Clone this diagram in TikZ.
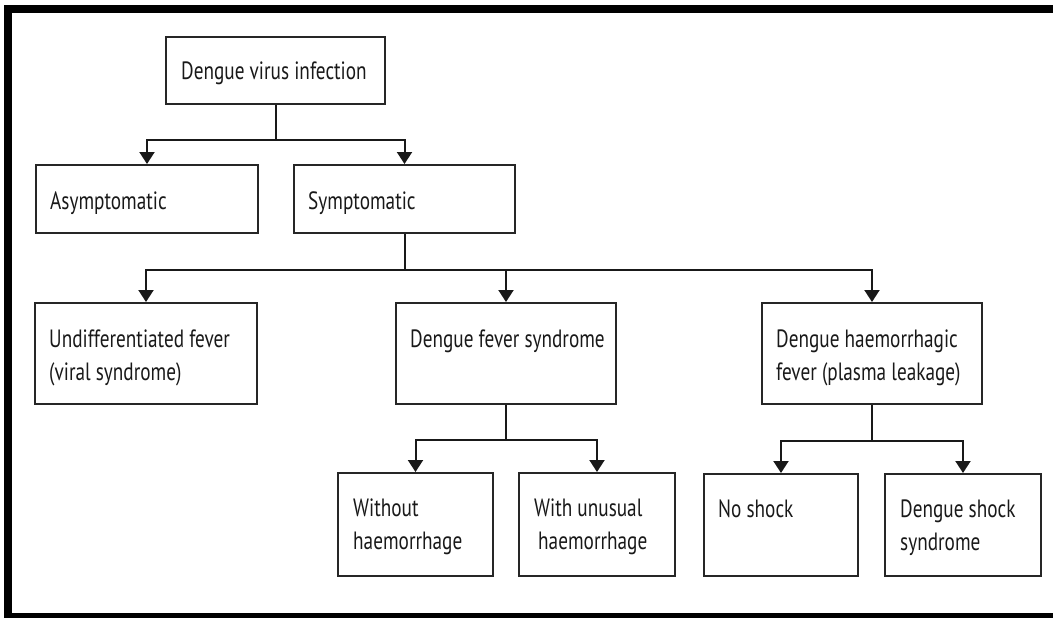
\documentclass[tikz,border=0pt]{standalone}
\usepackage{fontspec}
\setmainfont{PT Sans}[FakeStretch=0.77]
\usetikzlibrary{arrows.meta,calc}
\tikzset{
  box/.style={draw=black!85, line width=2pt, rectangle, inner sep=0pt, anchor=north west},
  txt/.style={anchor=base west, align=left, inner sep=0pt, text=black!90,
    font=\fontsize{25}{33}\selectfont},
  conn/.style={draw=black!90, line width=2pt},
  arr/.style={conn, -{Triangle[length=12pt,width=15pt]}},
}
\begin{document}
\begin{tikzpicture}[x=1pt,y=-1pt]
\useasboundingbox (0,0) rectangle (1053,618);
% frame
\fill[black] (4,5) rectangle (1053,13);
\fill[black] (4,5) rectangle (12,618);
\fill[black] (4,613) rectangle (1053,618);
% boxes
\node[box, minimum width=219pt, minimum height=67pt] (inf) at (165,36) {};
\node[box, minimum width=222pt, minimum height=68pt] (asym) at (35,164) {};
\node[box, minimum width=221pt, minimum height=68pt] (sym) at (293,164) {};
\node[box, minimum width=222pt, minimum height=101pt] (undiff) at (34,302) {};
\node[box, minimum width=220pt, minimum height=101pt] (dfs) at (395,302) {};
\node[box, minimum width=220pt, minimum height=101pt] (dhf) at (761,302) {};
\node[box, minimum width=155pt, minimum height=103pt] (without) at (337,472) {};
\node[box, minimum width=156pt, minimum height=103pt] (unusual) at (518,472) {};
\node[box, minimum width=154pt, minimum height=102pt] (noshock) at (703,473) {};
\node[box, minimum width=156pt, minimum height=102pt] (dss) at (884,473) {};
% texts (base anchor = baseline of the last line)
\node[txt] (tinf) at ($(inf.north west)+(16,44)$) {Dengue virus infection};
\node[txt] (tasym) at ($(asym.north west)+(15,45)$) {Asymptomatic};
\node[txt] (tsym) at ($(sym.north west)+(15,45)$) {Symptomatic};
\node[txt] (tundiff) at ($(undiff.north west)+(15,78)$) {Undifferentiated fever\\(viral syndrome)};
\node[txt] (tdfs) at ($(dfs.north west)+(15,45)$) {Dengue fever syndrome};
\node[txt] (tdhf) at ($(dhf.north west)+(15,78)$) {Dengue haemorrhagic\\fever (plasma leakage)};
\node[txt] (twithout) at ($(without.north west)+(16,77)$) {Without\\haemorrhage};
\node[txt] (tunusual) at ($(unusual.north west)+(16,77)$) {With unusual\\\hspace*{4pt}haemorrhage};
\node[txt] (tnoshock) at ($(noshock.north west)+(15,44)$) {No shock};
\node[txt] (tdss) at ($(dss.north west)+(16,77)$) {Dengue shock\\syndrome};
% connectors
\coordinate (j1) at ($(inf.south)+(0,35)$);
\draw[conn] (inf.south) -- (j1);
\draw[arr] (j1) -| (asym.north);
\draw[arr] (j1) -| (sym.north);
\coordinate (j2) at ($(sym.south)+(0,36)$);
\draw[conn] (sym.south) -- (j2);
\draw[arr] (j2) -| (undiff.north);
\draw[arr] (j2) -| (dfs.north);
\draw[arr] (j2) -| (dhf.north);
\coordinate (j3) at ($(dfs.south)+(0,35)$);
\draw[conn] (dfs.south) -- (j3);
\draw[arr] (j3) -| (without.north);
\draw[arr] (j3) -| (unusual.north);
\coordinate (j4) at ($(dhf.south)+(0,36)$);
\draw[conn] (dhf.south) -- (j4);
\draw[arr] (j4) -| (noshock.north);
\draw[arr] (j4) -| (dss.north);
\end{tikzpicture}
\end{document}
